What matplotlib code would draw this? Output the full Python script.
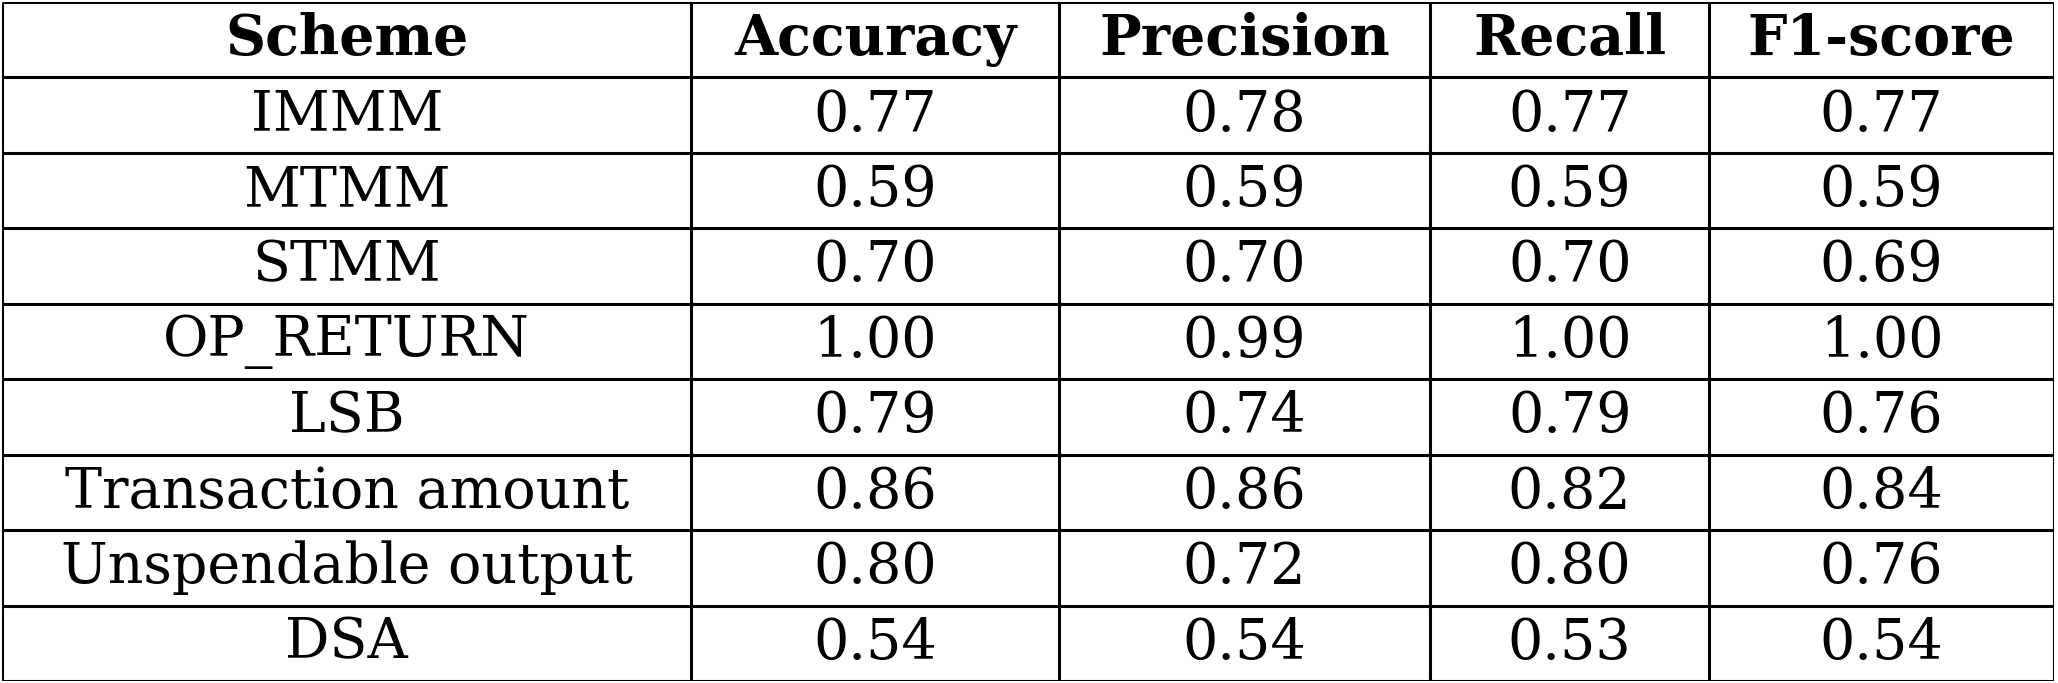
import matplotlib.pyplot as plt

# Данные таблицы
columns = ['Scheme', 'Accuracy', 'Precision', 'Recall', 'F1-score']
schemes = ['IMMM', 'MTMM', 'STMM', 'OP_RETURN', 'LSB',
           'Transaction amount', 'Unspendable output', 'DSA']
accuracy = ['0.77', '0.59', '0.70', '1.00', '0.79', '0.86', '0.80', '0.54']
precision = ['0.78', '0.59', '0.70', '0.99', '0.74', '0.86', '0.72', '0.54']
recall = ['0.77', '0.59', '0.70', '1.00', '0.79', '0.82', '0.80', '0.53']
f1 = ['0.77', '0.59', '0.69', '1.00', '0.76', '0.84', '0.76', '0.54']

# Границы столбцов в долях ширины
col_edges = [0.0, 0.336, 0.515, 0.696, 0.832, 1.0]

fig = plt.figure(figsize=(20.58, 6.83), dpi=100)
ax = fig.add_axes([0.001, 0.003, 0.997, 0.994])
ax.set_xlim(0, 1)
ax.set_ylim(0, 1)
ax.axis('off')

rows = [columns] + [list(r) for r in zip(schemes, accuracy, precision, recall, f1)]
n = len(rows)
h = 1.0 / n

# Линии сетки
for i in range(n + 1):
    ax.plot([0, 1], [i * h, i * h], color='black', lw=2.2, solid_capstyle='butt')
for x in col_edges:
    ax.plot([x, x], [0, 1], color='black', lw=2.2, solid_capstyle='butt')

# Текст ячеек
for r, row in enumerate(rows):
    yc = 1 - (r + 0.5) * h
    for c, val in enumerate(row):
        xc = (col_edges[c] + col_edges[c + 1]) / 2
        ax.text(xc, yc, val, ha='center', va='center', fontsize=40,
                family='DejaVu Serif', fontweight='bold' if r == 0 else 'normal')

plt.savefig('out.png', dpi=100)
